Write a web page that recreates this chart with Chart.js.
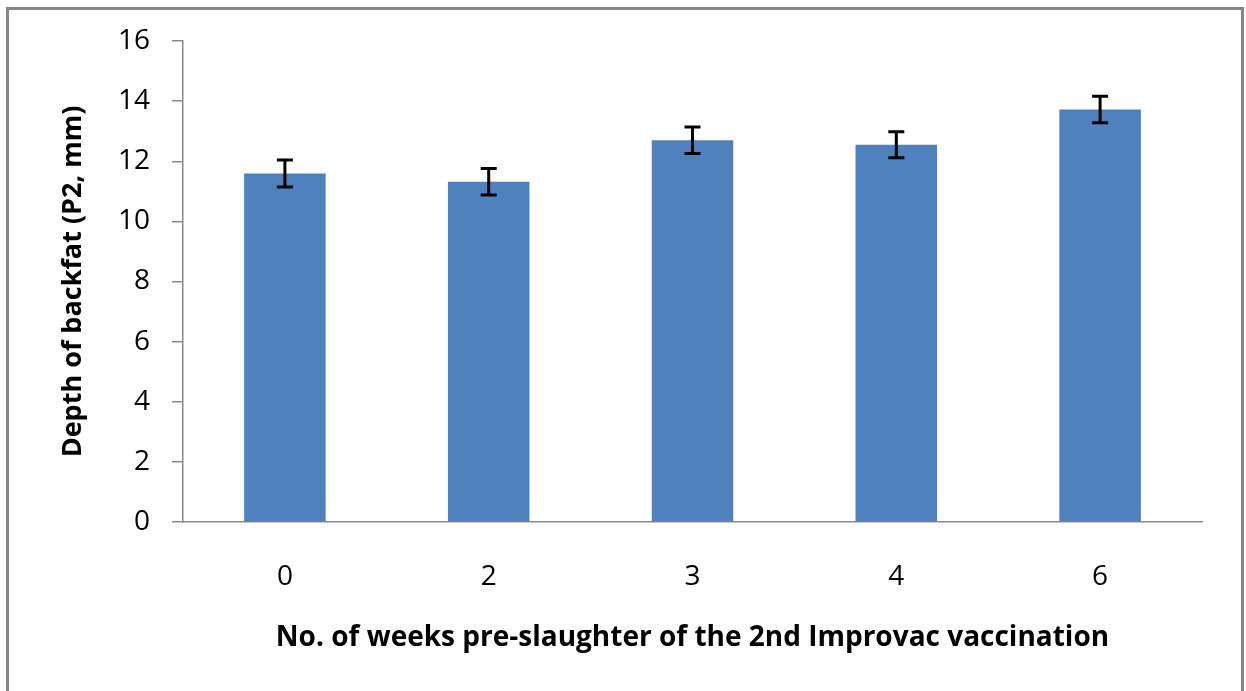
<!DOCTYPE html>
<html>
<head>
<meta charset="utf-8">
<script src="https://cdn.jsdelivr.net/npm/chart.js@4"></script>
<style>
    html, body { margin: 0; padding: 0; background: #fff; }
    #frame {
        position: absolute; left: 6px; top: 7px; width: 1238px; height: 700px;
        box-sizing: border-box; border: 3px solid #878787;
    }
    #chart { position: absolute; left: 0; top: 0; }
</style>
</head>
<body>
<div id="frame"></div>
<canvas id="chart" width="1246" height="691"></canvas>
<script>
// Data
const weeks = ['0', '2', '3', '4', '6'];
const backfat = [11.59, 11.32, 12.70, 12.55, 13.72];
const backfatErr = [0.45, 0.44, 0.44, 0.43, 0.44];

// Error bars drawn through the y scale
const errorBarPlugin = {
    id: 'errorBars',
    afterDatasetsDraw(chart) {
        const ctx = chart.ctx;
        const yScale = chart.scales.y;
        const meta = chart.getDatasetMeta(0);
        ctx.save();
        ctx.strokeStyle = '#000';
        ctx.lineWidth = 3;
        meta.data.forEach((bar, i) => {
            const x = bar.x;
            const top = yScale.getPixelForValue(backfat[i] + backfatErr[i]);
            const bottom = yScale.getPixelForValue(backfat[i] - backfatErr[i]);
            const cap = 8;
            ctx.beginPath();
            ctx.moveTo(x, top);
            ctx.lineTo(x, bottom);
            ctx.moveTo(x - cap, top);
            ctx.lineTo(x + cap, top);
            ctx.moveTo(x - cap, bottom);
            ctx.lineTo(x + cap, bottom);
            ctx.stroke();
        });
        ctx.restore();
    }
};

const axisColor = '#8a8a8a';

new Chart(document.getElementById('chart').getContext('2d'), {
    type: 'bar',
    data: {
        labels: weeks,
        datasets: [{
            data: backfat,
            backgroundColor: '#4f81bd',
            borderWidth: 0,
            barPercentage: 0.4,
            categoryPercentage: 1.0
        }]
    },
    options: {
        responsive: false,
        animation: false,
        devicePixelRatio: 1,
        layout: { padding: { left: 0, top: 41, right: 44, bottom: 0 } },
        plugins: {
            legend: { display: false },
            tooltip: { enabled: false }
        },
        scales: {
            x: {
                grid: { display: false, drawTicks: false },
                border: { display: true, color: axisColor, width: 1.5 },
                ticks: {
                    color: '#000',
                    padding: 38,
                    font: { family: 'Open Sans', size: 28 }
                },
                title: {
                    display: true,
                    text: 'No. of weeks pre-slaughter of the 2nd Improvac vaccination',
                    color: '#000',
                    font: { family: 'Open Sans', size: 28, weight: 'bold' },
                    padding: { top: 0, bottom: 36 }
                },
                afterFit(scale) { scale.height = 169; }
            },
            y: {
                min: 0,
                max: 16,
                grid: {
                    display: true,
                    drawOnChartArea: false,
                    drawTicks: true,
                    tickLength: 11,
                    color: axisColor,
                    lineWidth: 1.5
                },
                border: { display: true, color: axisColor, width: 1.5 },
                ticks: {
                    stepSize: 2,
                    color: '#000',
                    padding: 22,
                    font: { family: 'Open Sans', size: 28 }
                },
                title: {
                    display: true,
                    text: 'Depth of backfat (P2, mm)',
                    color: '#000',
                    font: { family: 'Open Sans', size: 27, weight: 'bold' },
                    padding: { top: 57, bottom: 0 }
                },
                afterFit(scale) { scale.width = 183; }
            }
        }
    },
    plugins: [errorBarPlugin]
});
</script>
</body>
</html>
